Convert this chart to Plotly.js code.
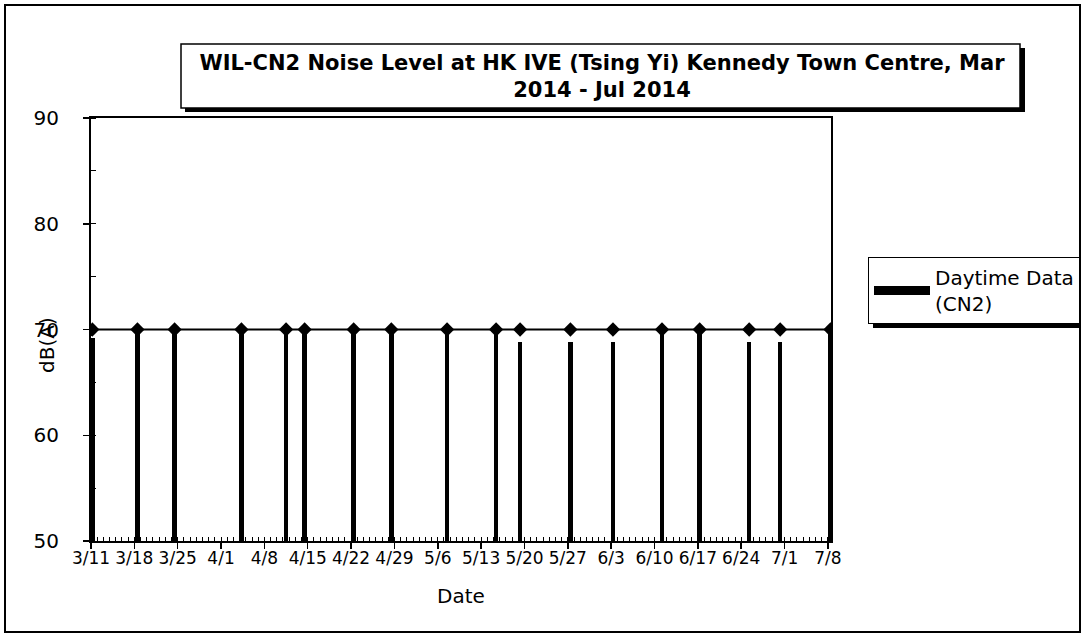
<!DOCTYPE html>
<html>
<head>
<meta charset="utf-8">
<script src="https://cdn.plot.ly/plotly-3.0.1.min.js"></script>
<style>html,body{margin:0;padding:0;background:#fff;}#chart{width:1081px;height:633px;}</style>
</head>
<body>
<div id="chart"></div>
<script>
// Measurement dates (Daytime Data, CN2)
const dates = [
  '2014-03-11 05:00','2014-03-18 12:00','2014-03-24 12:00','2014-04-04 07:00',
  '2014-04-11 12:00','2014-04-14 12:00','2014-04-22 10:00','2014-04-28 12:00',
  '2014-05-07 12:00','2014-05-15 10:00','2014-05-19 07:00','2014-05-27 10:00',
  '2014-06-03 07:00','2014-06-11 05:00','2014-06-17 07:00','2014-06-25 07:00',
  '2014-06-30 07:00','2014-07-08 10:00'
];
// Daytime noise level, dB(A)
const daytimeLevels = [69.2,70,70,70,70,70,70,70,70,70,68.8,68.8,68.8,70,70,68.8,68.8,70];
// Limit level, dB(A)
const limitLevels = [70,70,70,70,70,70,70,70,70,70,70,70,70,70,70,70,70,70];
const yTickValues = [50,60,70,80,90];
const seriesName = 'Daytime Data<br>(CN2)';
const titleText = 'WIL-CN2 Noise Level at HK IVE (Tsing Yi) Kennedy Town Centre, Mar<br>2014 - Jul 2014';
const xTitle = 'Date';
const yTitle = 'dB(A)';

const DAY = 86400000;
const FONT = 'DejaVu Sans, Arial, sans-serif';

// pixel -> paper helpers (plot area: x 91..831, y 118..541)
const L = 91, R = 831, T = 118, B = 541;
const px = x => (x - L) / (R - L);
const py = y => (B - y) / (B - T);

const traces = [
  {
    type: 'bar', x: dates, y: daytimeLevels, width: 0.72 * DAY,
    marker: {color: '#000', line: {width: 0}}, showlegend: false, name: 'Daytime Data (CN2)'
  },
  {
    type: 'scatter', mode: 'lines+markers', x: dates, y: limitLevels,
    line: {color: '#000', width: 2}, marker: {symbol: 'diamond', size: 11, color: '#000'},
    showlegend: false, name: 'Limit'
  },
  {
    type: 'scatter', mode: 'lines', x: [null], y: [null], name: seriesName,
    line: {color: '#000', width: 9}, showlegend: true
  }
];

const shapes = [
  // outer frame
  {type: 'rect', xref: 'paper', yref: 'paper', x0: px(5), x1: px(1080), y0: py(632), y1: py(5),
   line: {color: '#000', width: 2}, fillcolor: 'rgba(0,0,0,0)', layer: 'below'},
  // title box shadow
  {type: 'rect', xref: 'paper', yref: 'paper', x0: px(185), x1: px(1025), y0: py(112), y1: py(48),
   line: {width: 0}, fillcolor: '#000', layer: 'above'},
  // title box
  {type: 'rect', xref: 'paper', yref: 'paper', x0: px(181), x1: px(1020), y0: py(108), y1: py(44),
   line: {color: '#000', width: 1.5}, fillcolor: '#fff', layer: 'above'},
  // legend shadow
  {type: 'rect', xref: 'paper', yref: 'paper', x0: px(873), x1: px(1095), y0: py(328), y1: py(262),
   line: {width: 0}, fillcolor: '#000', layer: 'above'}
];

const layout = {
  width: 1081, height: 633,
  margin: {l: L, r: 1081 - R, t: T, b: 633 - B, pad: 0, autoexpand: false},
  paper_bgcolor: '#fff', plot_bgcolor: '#fff',
  font: {family: FONT, color: '#000', size: 17},
  title: {
    text: titleText, xref: 'container', yref: 'container',
    x: 602 / 1081, xanchor: 'center', y: 1 - 70 / 633, yanchor: 'middle',
    font: {family: FONT, size: 21, weight: 'bold', color: '#000'}
  },
  showlegend: true,
  legend: {
    xref: 'container', yref: 'container',
    x: 868 / 1081, xanchor: 'left', y: 1 - 257 / 633, yanchor: 'top',
    bgcolor: '#fff', bordercolor: '#000', borderwidth: 1,
    font: {family: FONT, size: 20, color: '#000'}, itemwidth: 56
  },
  bargap: 0,
  xaxis: {
    type: 'date',
    range: ['2014-03-11 00:00', '2014-07-08 12:00'],
    tick0: '2014-03-11', dtick: 7 * DAY, tickformat: '%-m/%-d',
    showgrid: false, zeroline: false,
    showline: true, linecolor: '#000', linewidth: 2, mirror: true,
    ticks: 'outside', ticklen: 6, tickwidth: 1.5, tickcolor: '#000',
    minor: {dtick: DAY, tick0: '2014-03-11', ticks: 'inside', ticklen: 4, tickwidth: 1, tickcolor: '#000', showgrid: false},
    ticklabelstandoff: -5,
    tickfont: {family: FONT, size: 17, color: '#000'},
    title: {text: xTitle, font: {family: FONT, size: 20, color: '#000'}, standoff: 22},
    automargin: false
  },
  yaxis: {
    range: [50, 90], tickvals: yTickValues,
    showgrid: false, zeroline: false,
    showline: true, linecolor: '#000', linewidth: 2, mirror: true,
    ticks: 'outside', ticklen: 6, tickwidth: 1.5, tickcolor: '#000',
    minor: {dtick: 5, tick0: 50, ticks: 'inside', ticklen: 5, tickwidth: 1, tickcolor: '#000', showgrid: false},
    ticklabelstandoff: 20,
    tickfont: {family: FONT, size: 20, color: '#000'},
    automargin: false
  },
  annotations: [
    {text: yTitle, xref: 'paper', yref: 'paper', x: px(47), y: py(345),
     xanchor: 'center', yanchor: 'middle', textangle: -90, showarrow: false,
     font: {family: FONT, size: 20, color: '#000'}}
  ],
  shapes: shapes
};

Plotly.newPlot('chart', traces, layout, {displayModeBar: false, staticPlot: true});
</script>
</body>
</html>
